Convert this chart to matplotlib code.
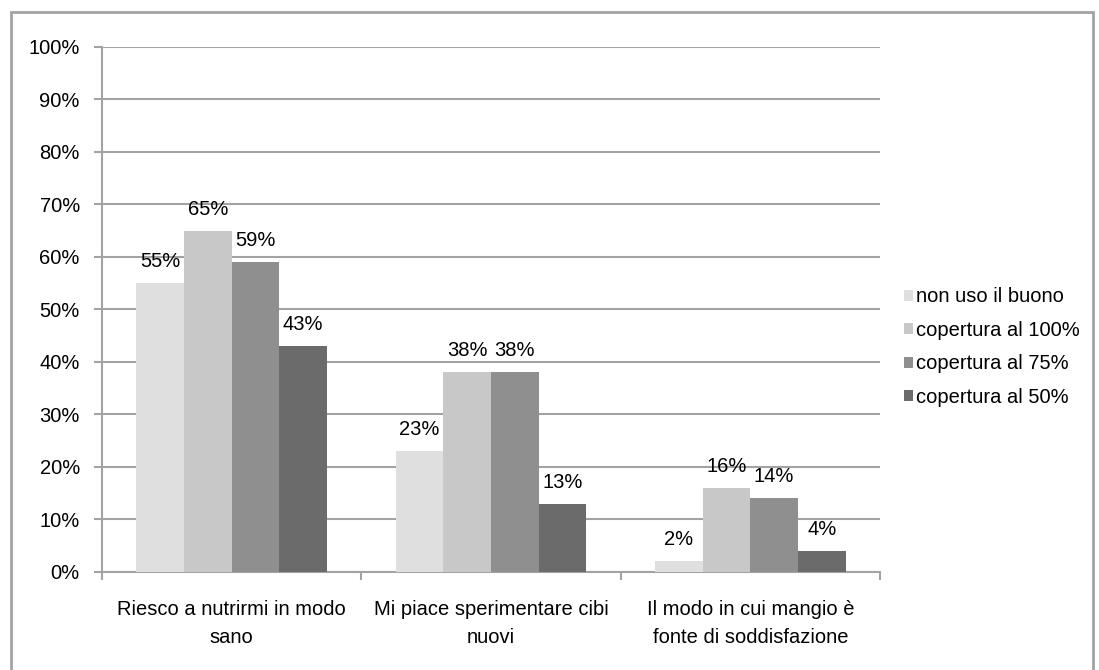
import numpy as np
import matplotlib.pyplot as plt
from matplotlib.patches import Rectangle, Patch

plt.rcParams['font.family'] = ['Liberation Sans', 'DejaVu Sans']

categories = ["Riesco a nutrirmi in modo\nsano",
              "Mi piace sperimentare cibi\nnuovi",
              "Il modo in cui mangio è\nfonte di soddisfazione"]
series = ["non uso il buono", "copertura al 100%", "copertura al 75%", "copertura al 50%"]
values = [
    [55, 23, 2],   # non uso il buono
    [65, 38, 16],  # copertura al 100%
    [59, 38, 14],  # copertura al 75%
    [43, 13, 4],   # copertura al 50%
]
colors = ["#dfdfdf", "#c8c8c8", "#8f8f8f", "#6b6b6b"]
grid_col = "#a3a3a3"
fs = 14.5

fig = plt.figure(figsize=(10.99, 6.70), dpi=100)
ax = fig.add_axes([0.0928, 0.1463, 0.7079, 0.7836])

# outer frame
fig.patches.append(Rectangle((11 / 1099, -0.01), 1082 / 1099, 1 - 12 / 670 + 0.01,
                             transform=fig.transFigure, fill=False,
                             edgecolor=grid_col, lw=2))

x = np.arange(len(categories))
w = 0.184
for i, (name, vals) in enumerate(zip(series, values)):
    pos = x + (i - 1.5) * w
    ax.bar(pos, vals, width=w, color=colors[i], zorder=3, label=name)
    for p, v in zip(pos, vals):
        ax.text(p, v + 2.3, f"{v}%", ha="center", va="bottom", fontsize=fs, zorder=4)

ax.set_xlim(-0.5, 2.5)
ax.set_ylim(0, 100)
ax.set_yticks(np.arange(0, 101, 10))
ax.set_yticklabels([f"{t}%" for t in range(0, 101, 10)], fontsize=fs)
ax.yaxis.grid(True, color=grid_col, lw=1.5, zorder=0)

ax.set_xticks([-0.5, 0.5, 1.5, 2.5])
ax.set_xticklabels([])
ax.set_xticks(x, minor=True)
ax.set_xticklabels(categories, minor=True, fontsize=fs, linespacing=1.6)
ax.tick_params(axis="x", which="minor", length=0, pad=20)
ax.tick_params(axis="x", which="major", length=6, width=1.5, color=grid_col)
ax.tick_params(axis="y", length=6, width=1.5, color=grid_col, pad=10)

for s in ["top", "right"]:
    ax.spines[s].set_visible(False)
for s in ["left", "bottom"]:
    ax.spines[s].set_color(grid_col)
    ax.spines[s].set_linewidth(1.5)

handles = [Patch(facecolor=c, edgecolor="none") for c in colors]
fig.legend(handles, series, loc="center left", bbox_to_anchor=(0.813, 0.482),
           frameon=False, fontsize=fs, handlelength=0.45, handleheight=0.45,
           handletextpad=0.15, labelspacing=0.72, borderpad=0)

fig.savefig("out.png", dpi=100)
